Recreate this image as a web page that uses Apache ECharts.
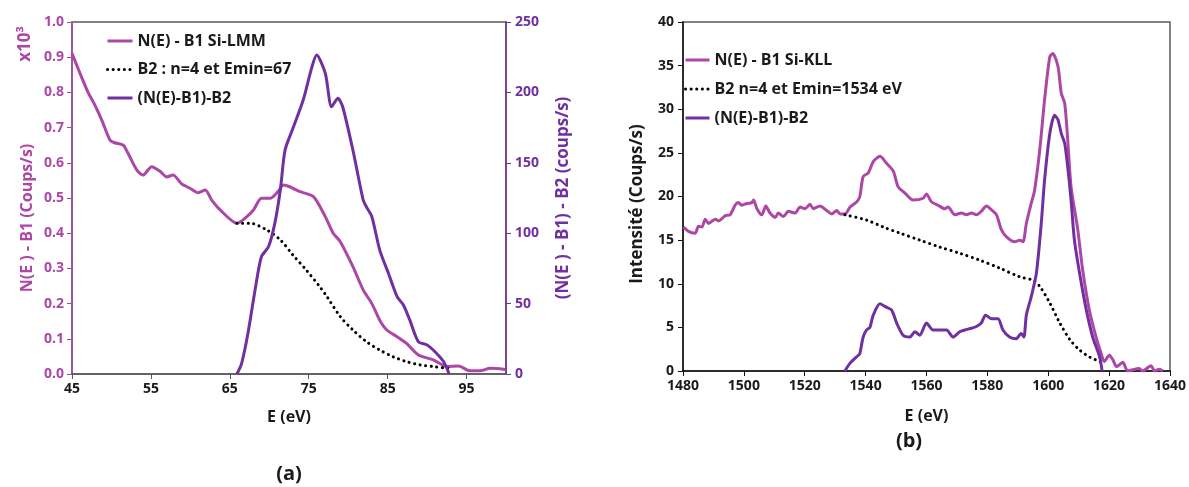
<!DOCTYPE html>
<html><head><meta charset="utf-8">
<script src="https://cdn.jsdelivr.net/npm/echarts@6/dist/echarts.min.js"></script>
<style>html,body{margin:0;padding:0;background:#fff}#c{width:1189px;height:487px}</style>
</head><body><div id="c"></div>
<script>
// ---- Data (a) Si-LMM ----
const lmmE_NE = [45,46,47.1,47.9,48.8,49.8,50.4,51.5,52.1,53.2,54.0,55.1,56.2,57.0,57.8,58.9,60.0,61.0,61.9,62.7,64.0,65.9,66.9,68.0,69.0,70.1,71.1,71.8,72.6,73.9,75.6,77.1,78.1,79.0,80.6,81.9,83.0,84.0,84.9,86.2,87.4,88.9,90.8,92.5,94.0,95.4,96.7,98.0,99.9];
const lmmV_NE = [0.911,0.855,0.797,0.764,0.72,0.665,0.657,0.65,0.627,0.58,0.565,0.589,0.575,0.56,0.565,0.54,0.527,0.515,0.523,0.494,0.461,0.428,0.442,0.466,0.499,0.499,0.518,0.537,0.532,0.518,0.504,0.447,0.40,0.376,0.305,0.239,0.20,0.153,0.125,0.106,0.087,0.054,0.04,0.021,0.023,0.009,0.009,0.016,0.013];
const lmmE_B2 = [65.9,67.6,69.7,71.4,73.0,74.7,76.4,77.3,79.0,80.6,82.3,84.0,85.7,87.4,89.1,90.8,92.5,93.2];
const lmmV_B2 = [0.428,0.428,0.409,0.381,0.338,0.295,0.248,0.22,0.163,0.125,0.092,0.068,0.049,0.035,0.026,0.021,0.016,0.014];
const lmmE_D = [65.9,66.5,67.3,68.2,69.0,69.9,70.7,71.4,72.0,73.0,74.3,75.4,76.0,77.1,77.9,78.7,79.3,80.6,81.9,82.3,83.0,84.0,85.1,86.2,87.0,87.8,88.9,90.0,91.0,92.1,92.8];
const lmmV_D = [0,7.6,28.9,59.7,83.3,90.4,107,130.7,159,174.5,194.6,218,226.6,213.6,189.8,195.8,189.8,159,123.6,118.8,111.7,88,71.5,54.9,49,38.4,22.9,20.6,15.8,8.7,0];

// ---- Data (b) Si-KLL ----
const kllE_NE = [1480.2,1481.8,1484,1485.1,1486.2,1487.3,1488.4,1490.6,1491.7,1493.9,1495.5,1497.1,1498.2,1499.3,1501,1502.6,1503.2,1504.3,1505.9,1507.2,1508.6,1510.3,1511.3,1513,1514.6,1516.8,1518.5,1520.1,1521.7,1522.8,1525,1527.2,1528.9,1530.5,1531.6,1533.2,1534.9,1537.1,1538.1,1539.2,1540.9,1542.5,1544.7,1546.9,1549.1,1550.7,1552.9,1555.6,1558.9,1560,1561.6,1563.8,1566,1567.1,1569.3,1571.5,1573.1,1574.8,1576.4,1578,1579.7,1581.3,1583,1584.6,1586.2,1589,1590.6,1591.7,1592.8,1594.4,1595.5,1597.2,1598.8,1600.5,1601.5,1603.2,1604.3,1605.4,1606.4,1607.5,1609.7,1611.3,1613.5,1615.7,1617.4,1618.4,1620.1,1621.2,1622.5,1624.5,1626.1,1629.9,1631,1633.8,1634.9,1636.5,1637.6];
const kllV_NE = [16.5,16.0,15.8,16.6,16.5,17.4,16.9,17.4,17.2,17.8,17.9,19.0,19.3,19.0,19.2,19.3,19.6,18.6,17.9,18.9,18.1,17.6,18.1,17.7,18.3,18.1,18.8,18.6,19.1,18.6,18.9,18.4,18.0,18.4,18.0,18.0,18.8,19.4,20.0,22.3,22.7,24.0,24.6,23.8,22.9,21.1,20.4,19.6,19.8,20.3,19.4,19.0,18.6,18.8,17.9,18.1,17.9,18.1,17.9,18.3,18.9,18.5,17.9,16.2,15.4,14.8,15.0,14.8,16.9,19.2,20.7,25.3,31.1,36.0,36.4,34.9,31.8,30.7,26.5,21.1,16.2,11.6,7.0,3.9,2.0,1.1,1.8,1.3,0.5,1.0,0,0.3,0,0.6,0,0.2,0];
const kllE_B2 = [1533.2,1540.3,1545.8,1551.3,1557.8,1564.4,1570.9,1577.5,1584,1590.6,1595,1597.2,1600.5,1603.8,1607.1,1610.3,1613.6,1616.9,1618];
const kllV_B2 = [17.9,17.3,16.5,15.8,15.0,14.2,13.5,12.7,11.8,10.8,10.4,9.7,7.8,5.5,3.6,2.4,1.6,1.1,0.9];
const kllE_D = [1533.2,1534.9,1537.6,1538.1,1539.2,1540.3,1541.4,1542.5,1544.7,1546.3,1548.5,1550.2,1552.3,1554.5,1556.2,1557.8,1560,1562.2,1564.4,1566.6,1568.7,1570.9,1572.6,1574.8,1576.4,1578,1579.4,1581.3,1583.5,1585.1,1587.3,1589.5,1591.1,1592,1592.8,1594.4,1596.1,1597.7,1598.8,1600.5,1602.1,1603.2,1604.3,1605.4,1606.4,1607.5,1608.6,1610.3,1612.5,1614.6,1616.9,1617.7];
const kllV_D = [0,0.9,1.8,2.0,3.9,4.7,5.0,6.4,7.7,7.4,7.0,5.5,4.1,3.9,4.5,4.1,5.5,4.7,4.7,4.7,3.9,4.5,4.7,4.9,5.1,5.5,6.4,6.0,6.0,4.7,3.9,3.7,4.3,3.9,6.4,8.5,11.2,16.9,21.9,27.2,29.3,28.8,27.2,26.1,23.4,19.6,15.0,11.2,7.0,3.9,1.6,0];

const namesA = ['N(E) - B1 Si-LMM', 'B2 : n=4 et Emin=67', '(N(E)-B1)-B2'];
const namesB = ['N(E) - B1 Si-KLL', 'B2 n=4 et Emin=1534 eV', '(N(E)-B1)-B2 '];

const MAG = '#AD47A6', PUR = '#7030A0', AXC = '#595959', TXT = '#1a1a1a';
const FONT = 'Open Sans';
const pairs = (xs, ys) => xs.map((x, i) => [x, ys[i]]);
const lbl = (c) => ({color: c, fontFamily: FONT, fontWeight: 'bold', fontSize: 14});
const nameStyle = (c, s) => ({color: c, fontFamily: FONT, fontWeight: 'bold', fontSize: s || 16});
const dots = {color: '#000', width: 3, type: [0.1, 5.5], cap: 'round'};
const vtext = (txt, x, y, color, size) => ({type: 'text', x: x, y: y, rotation: Math.PI / 2,
  style: {text: txt, fill: color, font: 'bold ' + size + 'px "Open Sans"', align: 'center', verticalAlign: 'middle'}});

const chart = echarts.init(document.getElementById('c'), null, {renderer: 'canvas'});
chart.setOption({
  animation: false,
  backgroundColor: '#fff',
  textStyle: {fontFamily: FONT},
  grid: [
    {left: 72, right: 683, top: 22, bottom: 113, show: true, borderColor: AXC, borderWidth: 1.5},
    {left: 683, right: 18, top: 22, bottom: 116, show: true, borderColor: AXC, borderWidth: 1.5}
  ],
  xAxis: [
    {type: 'value', gridIndex: 0, min: 45, max: 100, interval: 10,
     axisLine: {show: true, lineStyle: {color: AXC, width: 1.5}},
     axisTick: {show: true, length: 5, lineStyle: {color: AXC}},
     axisLabel: Object.assign(lbl(TXT), {showMaxLabel: false, margin: 8, formatter: v => String(v)}),
     splitLine: {show: false},
     name: 'E (eV)', nameLocation: 'middle', nameGap: 35, nameTextStyle: nameStyle(TXT)},
    {type: 'value', gridIndex: 1, min: 1480, max: 1640, interval: 20,
     axisLine: {show: true, lineStyle: {color: '#111', width: 1.5}},
     axisTick: {show: true, length: 5, lineStyle: {color: '#111'}},
     axisLabel: Object.assign(lbl(TXT), {margin: 8, formatter: v => String(v)}),
     splitLine: {show: false},
     name: 'E (eV)', nameLocation: 'middle', nameGap: 37, nameTextStyle: nameStyle(TXT)}
  ],
  yAxis: [
    {type: 'value', gridIndex: 0, min: 0, max: 1, interval: 0.1, position: 'left',
     axisLine: {show: true, lineStyle: {color: MAG, width: 1.5}},
     axisTick: {show: true, length: 5, lineStyle: {color: MAG}},
     axisLabel: Object.assign(lbl(MAG), {formatter: v => v.toFixed(1), margin: 8}),
     splitLine: {show: false}},
    {type: 'value', gridIndex: 0, min: 0, max: 250, interval: 50, position: 'right',
     axisLine: {show: true, lineStyle: {color: PUR, width: 1.5}},
     axisTick: {show: true, length: 5, lineStyle: {color: PUR}},
     axisLabel: Object.assign(lbl(PUR), {margin: 9}),
     splitLine: {show: false}},
    {type: 'value', gridIndex: 1, min: 0, max: 40, interval: 5,
     axisLine: {show: true, lineStyle: {color: '#111', width: 1.5}},
     axisTick: {show: true, length: 5, lineStyle: {color: '#111'}},
     axisLabel: Object.assign(lbl(TXT), {margin: 9}),
     splitLine: {show: false}}
  ],
  legend: [
    {data: namesA, orient: 'vertical', left: 106, top: 33, padding: 0, itemWidth: 25, itemHeight: 14, itemGap: 12.5,
     itemStyle: {opacity: 0}, lineStyle: {width: 3},
     textStyle: {color: TXT, fontFamily: FONT, fontWeight: 'bold', fontSize: 16}},
    {data: namesB, orient: 'vertical', left: 684, top: 52, padding: 0, itemWidth: 24, itemHeight: 14, itemGap: 13,
     itemStyle: {opacity: 0}, lineStyle: {width: 3},
     textStyle: {color: TXT, fontFamily: FONT, fontWeight: 'bold', fontSize: 16}}
  ],
  series: [
    {name: namesA[0], type: 'line', xAxisIndex: 0, yAxisIndex: 0, symbol: 'none', smooth: 0.25,
     lineStyle: {color: MAG, width: 3}, itemStyle: {color: MAG}, data: pairs(lmmE_NE, lmmV_NE)},
    {name: namesA[1], type: 'line', xAxisIndex: 0, yAxisIndex: 0, symbol: 'none', smooth: 0.3,
     lineStyle: dots, itemStyle: {color: '#000'}, data: pairs(lmmE_B2, lmmV_B2)},
    {name: namesA[2], type: 'line', xAxisIndex: 0, yAxisIndex: 1, symbol: 'none', smooth: 0.25,
     lineStyle: {color: PUR, width: 3}, itemStyle: {color: PUR}, data: pairs(lmmE_D, lmmV_D)},
    {name: namesB[0], type: 'line', xAxisIndex: 1, yAxisIndex: 2, symbol: 'none', smooth: 0.25,
     lineStyle: {color: MAG, width: 3}, itemStyle: {color: MAG}, data: pairs(kllE_NE, kllV_NE)},
    {name: namesB[1], type: 'line', xAxisIndex: 1, yAxisIndex: 2, symbol: 'none', smooth: 0.3,
     lineStyle: dots, itemStyle: {color: '#000'}, data: pairs(kllE_B2, kllV_B2)},
    {name: namesB[2], type: 'line', xAxisIndex: 1, yAxisIndex: 2, symbol: 'none', smooth: 0.25,
     lineStyle: {color: PUR, width: 3}, itemStyle: {color: PUR}, data: pairs(kllE_D, kllV_D)}
  ],
  graphic: [
    vtext('x10³', 25, 44, MAG, 17),
    vtext('N(E ) - B1 (Coups/s)', 27, 218, MAG, 16),
    vtext('(N(E ) - B1) - B2 (coups/s)', 563, 198, PUR, 17),
    vtext('Intensité (Coups/s)', 637, 204, TXT, 17),
    {type: 'text', x: 289, y: 474,
     style: {text: '(a)', fill: TXT, font: 'bold 20px "Open Sans"', align: 'center', verticalAlign: 'middle'}},
    {type: 'text', x: 909, y: 441,
     style: {text: '(b)', fill: TXT, font: 'bold 20px "Open Sans"', align: 'center', verticalAlign: 'middle'}}
  ]
});
</script>
</body></html>
